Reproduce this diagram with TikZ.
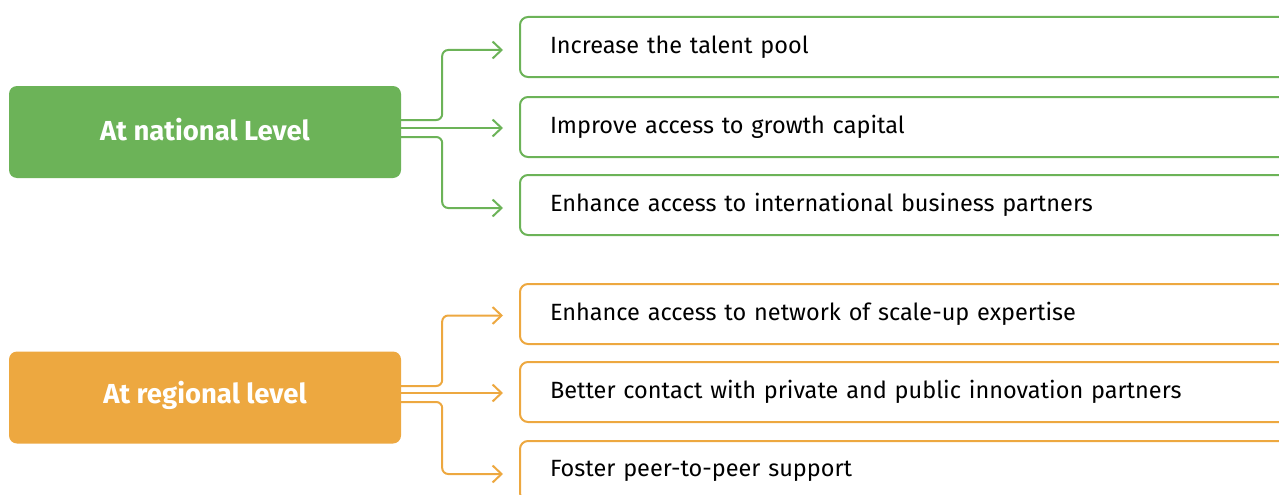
\documentclass[tikz,border=0pt]{standalone}
\usepackage{fontspec}
\setmainfont{Fira Sans}
\usetikzlibrary{arrows.meta}
\definecolor{egreen}{RGB}{108,179,88}
\definecolor{eorange}{RGB}{237,168,64}
\tikzset{
  mainbox/.style={draw=none, fill=#1, rounded corners=8pt, minimum width=392pt, minimum height=92pt, inner sep=0pt, text=white, font=\fontsize{27.5}{32}\selectfont\bfseries},
  rbox/.style={draw=#1, line width=2pt, rounded corners=8pt, anchor=north west, minimum width=800pt, minimum height=60pt, text width=740pt, inner xsep=30pt, inner ysep=0pt, align=left, font=\fontsize{23.5}{28}\selectfont},
  conn/.style={draw=#1, line width=2pt, rounded corners=6pt, -{Straight Barb[length=9pt,width=17pt]}},
}
\begin{document}
\begin{tikzpicture}[x=1pt,y=-1pt]
\useasboundingbox (0,0) rectangle (1279,495);
\clip (0,0) rectangle (1279,495);
% main boxes
\node[mainbox=egreen] (g) at (205,132) {\raisebox{2.5pt}[\height][\depth]{At national Level}};
\node[mainbox=eorange] (o) at (205,397.5) {\raisebox{2pt}[\height][\depth]{At regional level}};
% green targets
\node[rbox=egreen] (t1) at (519,16) {Increase the talent pool};
\node[rbox=egreen] (t2) at (519,96) {Improve access to growth capital};
\node[rbox=egreen] (t3) at (519,174) {Enhance access to international business partners};
% orange targets
\node[rbox=eorange] (u1) at (519,283) {Enhance access to network of scale-up expertise};
\node[rbox=eorange] (u2) at (519,361) {Better contact with private and public innovation partners};
\node[rbox=eorange] (u3) at (519,440) {Foster peer-to-peer support};
% green connectors
\draw[conn=egreen] ([yshift=12pt]g.east) -- ++(41,0) |- ([xshift=-16pt,yshift=-3pt]t1.west);
\draw[conn=egreen] ([yshift=4pt]g.east) -- ([xshift=-16pt,yshift=4pt]g.east -| t2.west);
\draw[conn=egreen] ([yshift=-5pt]g.east) -- ++(41,0) |- ([xshift=-16pt,yshift=-3pt]t3.west);
% orange connectors
\draw[conn=eorange] ([yshift=11.5pt]o.east) -- ++(41,0) |- ([xshift=-16pt,yshift=-1.5pt]u1.west);
\draw[conn=eorange] ([yshift=4.5pt]o.east) -- ([xshift=-16pt,yshift=4.5pt]o.east -| u2.west);
\draw[conn=eorange] ([yshift=-4.5pt]o.east) -- ++(41,0) |- ([xshift=-16pt,yshift=-3pt]u3.west);
\end{tikzpicture}
\end{document}
